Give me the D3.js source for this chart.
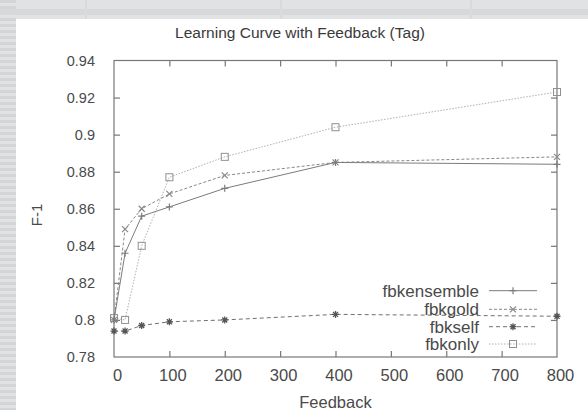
<!DOCTYPE html>
<html><head><meta charset="utf-8">
<script src="https://cdn.jsdelivr.net/npm/d3@7"></script>
<style>html,body{margin:0;padding:0;background:#dcdee0;}svg{display:block;}</style>
</head><body>
<svg id="c" width="588" height="410"></svg>
<script>
const feedback = [0, 20, 50, 100, 200, 400, 800];
const fbkensemble = [0.800, 0.836, 0.856, 0.861, 0.871, 0.885, 0.884];
const fbkgold     = [0.800, 0.849, 0.860, 0.868, 0.878, 0.885, 0.888];
const fbkself     = [0.794, 0.794, 0.797, 0.799, 0.800, 0.803, 0.802];
const fbkonly     = [0.801, 0.800, 0.840, 0.877, 0.888, 0.904, 0.923];
const seriesNames = ["fbkensemble", "fbkgold", "fbkself", "fbkonly"];
const xTicks = [0, 100, 200, 300, 400, 500, 600, 700, 800];
const yTicks = [0.78, 0.80, 0.82, 0.84, 0.86, 0.88, 0.90, 0.92, 0.94];
const yTickLabels = ["0.78", "0.8", "0.82", "0.84", "0.86", "0.88", "0.9", "0.92", "0.94"];

const svg = d3.select("#c");
// background stripes
const bg = svg.append("g");
bg.append("rect").attr("x",0).attr("y",0).attr("width",588).attr("height",410).attr("fill","#e0e2e4");
for (let y = 0; y < 410; y += 6) {
  bg.append("rect").attr("x",0).attr("y",y).attr("width",16).attr("height",3).attr("fill","#d3d5d7");
}
bg.append("rect").attr("x",0).attr("y",9).attr("width",588).attr("height",6).attr("fill","#d6d8da");
[85, 280, 470].forEach(x => bg.append("rect").attr("x",x).attr("y",0).attr("width",2).attr("height",19).attr("fill","#d8dadc"));
svg.append("rect").attr("x",16).attr("y",19).attr("width",572).attr("height",391).attr("fill","#ffffff");

const L = 114, R = 557, T = 60.5, B = 357;
const x = d3.scaleLinear().domain([0, 800]).range([L, R]);
const y = d3.scaleLinear().domain([0.78, 0.94]).range([B, T]);
const font = "'Liberation Sans', Arial, sans-serif";
const axisCol = "#777";

// frame
svg.append("rect").attr("x",L).attr("y",T).attr("width",R-L).attr("height",B-T)
  .attr("fill","none").attr("stroke",axisCol).attr("stroke-width",1.2);

// axes via d3 (inward ticks)
const xAx = svg.append("g").attr("transform",`translate(0,${B})`)
  .call(d3.axisBottom(x).tickValues(xTicks).tickSize(-6).tickPadding(12).tickFormat(d3.format("d")));
const xAxTop = svg.append("g").attr("transform",`translate(0,${T})`)
  .call(d3.axisTop(x).tickValues(xTicks).tickSize(-6).tickFormat(""));
const yAx = svg.append("g").attr("transform",`translate(${L},0)`)
  .call(d3.axisLeft(y).tickValues(yTicks).tickSize(-6).tickPadding(19).tickFormat((d,i)=>yTickLabels[i]));
const yAxR = svg.append("g").attr("transform",`translate(${R},0)`)
  .call(d3.axisRight(y).tickValues(yTicks).tickSize(-6).tickFormat(""));
[xAx, xAxTop, yAx, yAxR].forEach(g => {
  g.select(".domain").remove();
  g.selectAll(".tick line").attr("stroke", axisCol).attr("stroke-width",1.2);
  g.selectAll("text").attr("fill","#4a4a4a").attr("font-family",font);
});
xAx.selectAll("text").attr("font-size",16.5).attr("dx",3);
yAx.selectAll("text").attr("font-size",14.5);
xAx.selectAll(".tick").filter(d => d===0 || d===800).select("line").remove();
xAxTop.selectAll(".tick").filter(d => d===0 || d===800).select("line").remove();
yAx.selectAll(".tick").filter(d => d===0.78 || d===0.94).select("line").remove();
yAxR.selectAll(".tick").filter(d => d===0.78 || d===0.94).select("line").remove();

// titles
svg.append("text").attr("x",300).attr("y",38).attr("text-anchor","middle")
  .attr("font-family",font).attr("font-size",15.5).attr("fill","#3a3a3a").text("Learning Curve with Feedback (Tag)");
svg.append("text").attr("x",(L+R)/2).attr("y",408).attr("text-anchor","middle")
  .attr("font-family",font).attr("font-size",16.5).attr("fill","#4a4a4a").text("Feedback");
svg.append("text").attr("transform","translate(42,215) rotate(-90)").attr("text-anchor","middle")
  .attr("font-family",font).attr("font-size",15).attr("fill","#4a4a4a").text("F-1");

const styles = {
  fbkensemble: {data: fbkensemble, stroke: "#7c7c7c", dash: null, marker: "plus"},
  fbkgold: {data: fbkgold, stroke: "#888", dash: "3,2", marker: "cross"},
  fbkself: {data: fbkself, stroke: "#707070", dash: "4,3", marker: "star"},
  fbkonly: {data: fbkonly, stroke: "#b0b0b0", dash: "1.5,1.5", marker: "square"}
};

function drawMarker(g, type, cx, cy, col) {
  if (type === "plus") {
    g.append("path").attr("d",`M${cx-3.5},${cy}H${cx+3.5}M${cx},${cy-3.5}V${cy+3.5}`).attr("stroke",col).attr("stroke-width",1.2);
  } else if (type === "cross") {
    g.append("path").attr("d",`M${cx-3},${cy-3}L${cx+3},${cy+3}M${cx-3},${cy+3}L${cx+3},${cy-3}`).attr("stroke",col).attr("stroke-width",1.2);
  } else if (type === "star") {
    g.append("path").attr("d",`M${cx-3.5},${cy}H${cx+3.5}M${cx},${cy-3.5}V${cy+3.5}M${cx-2.5},${cy-2.5}L${cx+2.5},${cy+2.5}M${cx-2.5},${cy+2.5}L${cx+2.5},${cy-2.5}`).attr("stroke","#555").attr("stroke-width",1.3);
  } else {
    g.append("rect").attr("x",cx-3.5).attr("y",cy-3.5).attr("width",7).attr("height",7).attr("fill","none").attr("stroke","#909090").attr("stroke-width",1);
  }
}

const line = d3.line().x((d,i)=>x(feedback[i])).y(d=>y(d));
const plot = svg.append("g");
seriesNames.slice().reverse().forEach(name => {
  const s = styles[name];
  plot.append("path").datum(s.data).attr("d", line).attr("fill","none")
    .attr("stroke", s.stroke).attr("stroke-width",1).attr("stroke-dasharray", s.dash);
  s.data.forEach((v,i) => drawMarker(plot, s.marker, x(feedback[i]), y(v), s.stroke));
});

// legend
const legY = [290.7, 309.3, 326.7, 344];
const leg = svg.append("g");
seriesNames.forEach((name, i) => {
  const s = styles[name];
  leg.append("text").attr("x",479).attr("y",legY[i]+6).attr("text-anchor","end")
    .attr("font-family",font).attr("font-size",17).attr("fill","#4a4a4a").text(name);
  leg.append("line").attr("x1",489).attr("x2",537).attr("y1",legY[i]).attr("y2",legY[i])
    .attr("stroke",s.stroke).attr("stroke-width",1).attr("stroke-dasharray",s.dash);
  drawMarker(leg, s.marker, 513, legY[i], s.stroke);
});
</script>
</body></html>
